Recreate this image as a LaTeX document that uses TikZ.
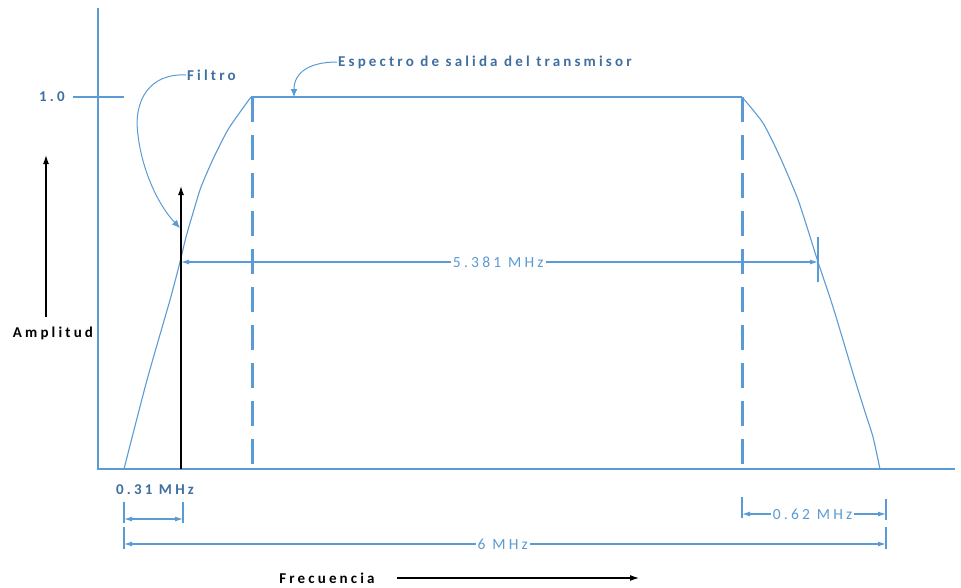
\documentclass[tikz,border=0pt]{standalone}
\usepackage{fontspec}
\setmainfont{Carlito}
\newfontfamily\lbl[LetterSpace=21]{Carlito}
\usetikzlibrary{arrows.meta}
\definecolor{bl}{HTML}{5B9BD5}
\definecolor{dbl}{HTML}{3E6FA0}
\begin{document}
\begin{tikzpicture}[x=1pt,y=-1pt,
  axisline/.style={draw=bl,line width=1.5pt},
  spec/.style={draw=bl,line width=1.1pt},
  dashv/.style={draw=bl,line width=3pt,dash pattern=on 25pt off 13pt},
  dimline/.style={draw=bl,line width=1.1pt,{Latex[length=8pt,width=5pt]}-{Latex[length=8pt,width=5pt]}},
  tickline/.style={draw=bl,line width=1.1pt},
  callout/.style={draw=bl,line width=1pt,-{Latex[length=8pt,width=7pt]}},
  blackarrow/.style={draw=black,line width=1.3pt,-{Latex[length=9pt,width=6pt]}},
  darklabel/.style={text=dbl,font=\lbl\bfseries\fontsize{15}{17}\selectfont,inner sep=1pt},
  blacklabel/.style={text=black,font=\lbl\bfseries\fontsize{15}{17}\selectfont,inner sep=1pt},
  dimlabel/.style={text=bl,fill=white,font=\lbl\fontsize{15.5}{17}\selectfont,inner sep=2pt}
]
\useasboundingbox (0,0) rectangle (961,587);

% axes
\coordinate (ytop) at (98,8);
\coordinate (origin) at (98,469);
\coordinate (xend) at (955,469);
\draw[axisline] (ytop) -- (origin) -- (xend);
\coordinate (t1a) at (73,97);
\coordinate (t1b) at (124,97);
\draw[axisline] (t1a) -- (t1b);
\node[darklabel] (one) at (52,97) {1.0};

% spectrum
\coordinate (ls) at (124,469);
\coordinate (tl) at (251,97);
\coordinate (tr) at (742,97);
\coordinate (re) at (880,469);
\draw[spec] plot[smooth,tension=0.4] coordinates {(124,469) (147,380) (170,300) (180,262) (186,237) (193,213) (201,187) (214,157) (229,128) (251,97)};
\draw[spec] (tl) -- (tr);
\draw[spec] plot[smooth,tension=0.4] coordinates {(742,97) (763,123) (780,157) (797,197) (807,227) (818,262) (833,307) (855,380) (866,415) (873,437) (880,469)};

% dashed verticals
\coordinate (d1b) at (252,471);
\coordinate (d2b) at (742,471);
\draw[dashv] (252,97) -- (d1b);
\draw[dashv] (tr) -- (d2b);

% black arrows
\coordinate (a1b) at (181,469);
\coordinate (a1t) at (181,186);
\draw[blackarrow] (a1b) -- (a1t);
\coordinate (a2b) at (46,317);
\coordinate (a2t) at (46,155);
\draw[blackarrow] (a2b) -- (a2t);
\node[blacklabel] (amp) at (53,333) {Amplitud};

% callouts
\node[darklabel,anchor=west] (filtro) at (186,75) {Filtro};
\coordinate (filtrotip) at (180,228);
\draw[callout] (filtro.west) .. controls (150,73) and (133,100) .. (138,135)
   .. controls (142,170) and (158,205) .. (filtrotip);
\node[darklabel,anchor=west] (espectro) at (337,62) {Espectro de salida del transmisor};
\coordinate (esptip) at (294,97);
\draw[callout] (espectro.west) .. controls (310,62) and (294,72) .. (esptip);

% 5.381 MHz
\coordinate (m1) at (181,262);
\coordinate (m2) at (818,262);
\coordinate (m2a) at (818,237);
\coordinate (m2b) at (818,282);
\draw[tickline] (m2a) -- (m2b);
\draw[dimline] (m1) -- (m2) node[dimlabel,pos=0.498] (lab5) {5.381 MHz};

% 0.31 MHz
\node[darklabel] (lab031) at (155,490) {0.31 MHz};
\coordinate (p1a) at (124,502); \coordinate (p1b) at (124,523);
\coordinate (p2a) at (183,502); \coordinate (p2b) at (183,523);
\draw[tickline] (p1a) -- (p1b);
\draw[tickline] (p2a) -- (p2b);
\coordinate (p1) at (124,519); \coordinate (p2) at (183,519);
\draw[dimline] (p1) -- (p2);

% 0.62 MHz
\coordinate (q1a) at (742,497); \coordinate (q1b) at (742,518);
\coordinate (q2a) at (886,499); \coordinate (q2b) at (886,520);
\draw[tickline] (q1a) -- (q1b);
\draw[tickline] (q2a) -- (q2b);
\coordinate (q1) at (742,514); \coordinate (q2) at (886,514);
\draw[dimline] (q1) -- (q2) node[dimlabel,pos=0.49] (lab062) {0.62 MHz};

% 6 MHz
\coordinate (s1a) at (124,527); \coordinate (s1b) at (124,549);
\coordinate (s2a) at (886,527); \coordinate (s2b) at (886,549);
\draw[tickline] (s1a) -- (s1b);
\draw[tickline] (s2a) -- (s2b);
\coordinate (s1) at (124,544); \coordinate (s2) at (886,544);
\draw[dimline] (s1) -- (s2) node[dimlabel,pos=0.497] (lab6) {6 MHz};

% Frecuencia
\node[blacklabel] (frec) at (327,578) {Frecuencia};
\coordinate (f1) at (397,578);
\coordinate (f2) at (639,578);
\draw[blackarrow,line width=1.1pt] (f1) -- (f2);
\end{tikzpicture}
\end{document}
